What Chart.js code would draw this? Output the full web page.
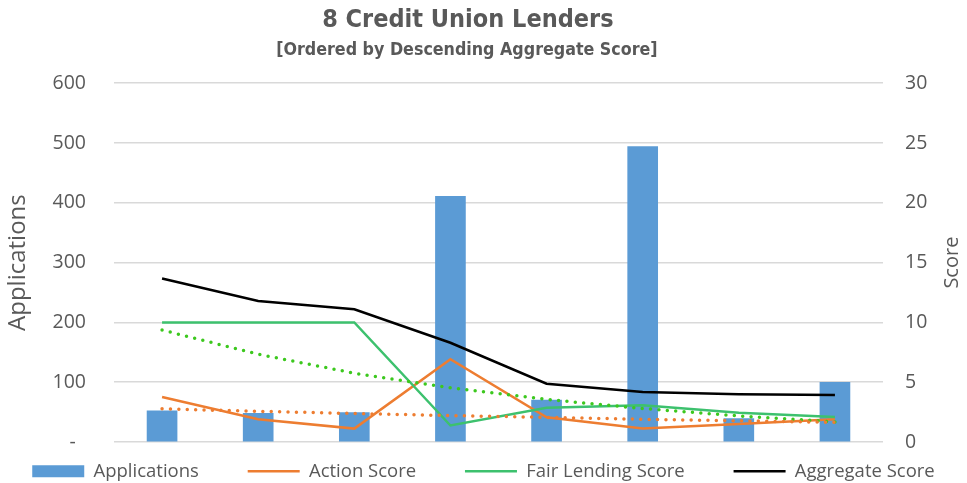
<!DOCTYPE html>
<html>
<head>
<meta charset="utf-8">
<script src="https://cdn.jsdelivr.net/npm/chart.js@4/dist/chart.umd.min.js"></script>
<style>
  html, body { margin: 0; padding: 0; background: #fff; }
  #wrap { width: 967px; height: 483px; position: relative; }
</style>
</head>
<body>
<div id="wrap"><canvas id="chart"></canvas></div>
<script>
/* ══════════════════════════════════════════════════════════════════════════
   DATA
══════════════════════════════════════════════════════════════════════════ */
const lenders = ["1", "2", "3", "4", "5", "6", "7", "8"];
const applications = [52, 48, 49, 411, 70, 494, 39, 100];
const actionScore = [3.76, 1.9, 1.12, 6.92, 2.07, 1.12, 1.5, 1.9];
const fairLendingScore = [10, 10, 10, 1.38, 2.86, 3.08, 2.44, 2.1];
const aggregateScore = [13.67, 11.8, 11.1, 8.3, 4.87, 4.18, 4.0, 3.92];
// dotted trend lines
const actionTrend = [2.77, 2.57, 2.38, 2.21, 2.06, 1.9, 1.77, 1.65];
const fairTrend = [9.36, 7.34, 5.75, 4.54, 3.56, 2.8, 2.18, 1.68];

const leftTicks = [0, 100, 200, 300, 400, 500, 600];
const rightTicks = [0, 5, 10, 15, 20, 25, 30];

/* ══════════════════════════════════════════════════════════════════════════
   STYLE
══════════════════════════════════════════════════════════════════════════ */
const GREY = "#595959";
const GRID = "#d9d9d9";
const SANS = "'Open Sans', 'Liberation Sans', sans-serif";
const NARROW = "'DejaVu Sans Condensed', 'Liberation Sans Narrow', 'Open Sans', sans-serif";
const GAP = "      "; // extra room between legend entries

// right axis title reads bottom-to-top like the left one
const rightTitle = {
  id: "rightTitle",
  afterDraw(chart) {
    const ctx = chart.ctx;
    const area = chart.chartArea;
    ctx.save();
    ctx.translate(952, (area.top + area.bottom) / 2);
    ctx.rotate(-Math.PI / 2);
    ctx.font = "20px " + SANS;
    ctx.fillStyle = GREY;
    ctx.textAlign = "center";
    ctx.textBaseline = "middle";
    ctx.fillText("Score", 0, 0);
    ctx.restore();
  },
};

// keep the legend box short so its padding only pushes the row down
const legendFit = {
  id: "legendFit",
  beforeLayout(chart) {
    const lg = chart.legend;
    if (!lg || lg._patched) return;
    const fit = lg.fit.bind(lg);
    lg.fit = function () {
      fit();
      this.height = 41;
    };
    lg._patched = true;
  },
};

function line(label, data, color, order) {
  return {
    type: "line",
    label,
    data,
    yAxisID: "y1",
    borderColor: color,
    backgroundColor: color,
    borderWidth: 2.5,
    pointRadius: 0,
    tension: 0,
    order,
  };
}

function dotted(label, data, color) {
  return {
    type: "line",
    label,
    data,
    yAxisID: "y1",
    borderColor: color,
    borderWidth: 3.5,
    borderDash: [0, 8.4],
    borderCapStyle: "round",
    pointRadius: 0,
    tension: 0,
    order: 0,
  };
}

/* ══════════════════════════════════════════════════════════════════════════
   CHART
══════════════════════════════════════════════════════════════════════════ */
new Chart(document.getElementById("chart"), {
  data: {
    labels: lenders,
    datasets: [
      {
        type: "bar",
        label: "Applications",
        data: applications,
        yAxisID: "y",
        backgroundColor: "#5b9bd5",
        borderWidth: 0,
        barThickness: 30,
        order: 10,
      },
      line("Action Score", actionScore, "#ed7d31", 3),
      line("Fair Lending Score", fairLendingScore, "#3dc16e", 2),
      line("Aggregate Score", aggregateScore, "#000000", 1),
      dotted("trend-action", actionTrend, "#ed7d31"),
      dotted("trend-fair", fairTrend, "#3cc81e"),
    ],
  },
  options: {
    responsive: true,
    maintainAspectRatio: false,
    animation: false,
    layout: { padding: 0 },
    plugins: {
      tooltip: { enabled: false },
      title: {
        display: true,
        text: "8 Credit Union Lenders    ",
        color: GREY,
        font: { family: NARROW, size: 25, weight: "bold", lineHeight: 1.2 },
        padding: { top: 5, bottom: 2 },
      },
      subtitle: {
        display: true,
        text: "[Ordered by Descending Aggregate Score]      ",
        color: GREY,
        font: { family: NARROW, size: 17.7, weight: "bold", lineHeight: 1.2 },
        padding: { top: 3, bottom: 22 },
      },
      legend: {
        position: "bottom",
        labels: {
          color: GREY,
          font: { family: SANS, size: 18.5 },
          usePointStyle: true,
          pointStyleWidth: 52,
          boxHeight: 12,
          padding: 20,
          filter: (item) => !item.text.startsWith("trend"),
          sort: (a, b) => a.datasetIndex - b.datasetIndex,
          generateLabels(chart) {
            const items = Chart.defaults.plugins.legend.labels.generateLabels(chart);
            items.forEach((it) => {
              it.pointStyle = it.datasetIndex === 0 ? "rect" : "line";
              if (it.datasetIndex < 3) it.text = it.text + GAP;
            });
            return items;
          },
        },
      },
    },
    scales: {
      x: {
        offset: true,
        ticks: { display: false },
        grid: { display: false },
        border: { display: false },
        afterFit: (s) => { s.height = 0; },
      },
      y: {
        position: "left",
        min: 0,
        max: 600,
        afterBuildTicks: (s) => { s.ticks = leftTicks.map((v) => ({ value: v })); },
        ticks: {
          color: GREY,
          font: { family: SANS, size: 19.5 },
          padding: 28,
          callback: (v) => (v === 0 ? "-  " : String(v)),
        },
        grid: { color: GRID, lineWidth: 1.5, drawTicks: false },
        border: { display: false },
        title: {
          display: true,
          text: "Applications",
          color: GREY,
          font: { family: SANS, size: 24, lineHeight: 1.2 },
          padding: { top: 4, bottom: 0 },
        },
        afterFit: (s) => { s.width = 114; },
      },
      y1: {
        position: "right",
        min: 0,
        max: 30,
        afterBuildTicks: (s) => { s.ticks = rightTicks.map((v) => ({ value: v })); },
        ticks: {
          color: GREY,
          font: { family: SANS, size: 19.5 },
          padding: 22,
        },
        grid: { display: false, drawTicks: false },
        border: { display: false },
        afterFit: (s) => { s.width = 84; },
      },
    },
  },
  plugins: [rightTitle, legendFit],
});
</script>
</body>
</html>
